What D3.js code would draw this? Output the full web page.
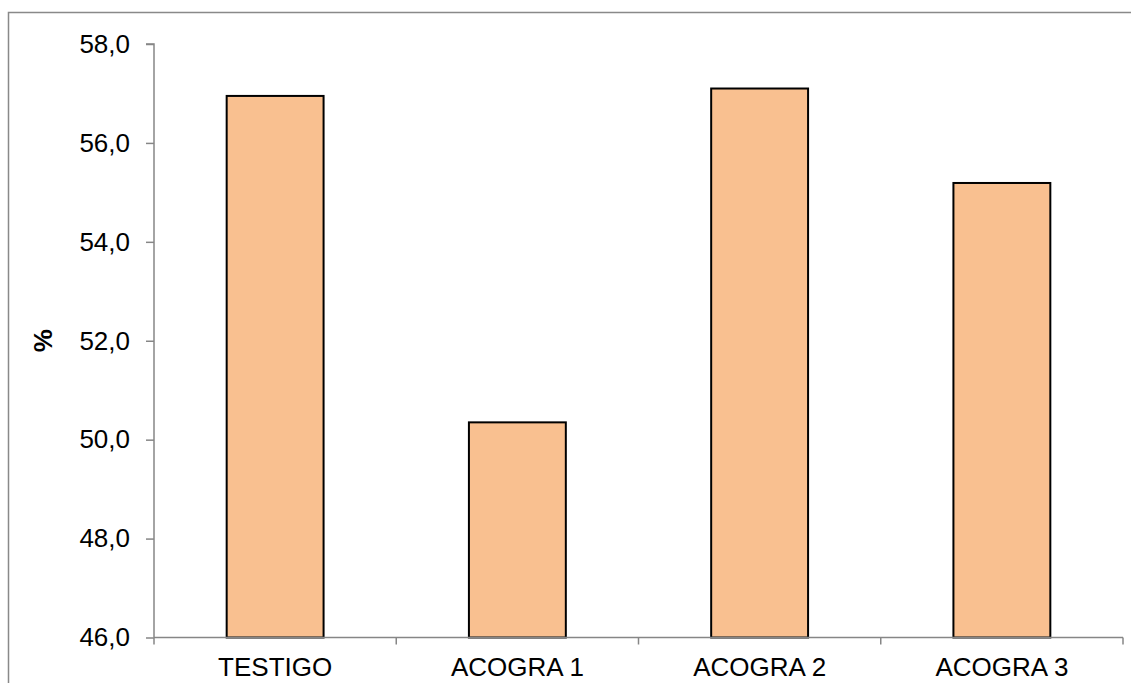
<!DOCTYPE html>
<html>
<head>
<meta charset="utf-8">
<script src="https://cdn.jsdelivr.net/npm/d3@7"></script>
<style>
body { margin: 0; background: #fff; }
svg { display: block; }
text { font-family: "Liberation Sans", Arial, sans-serif; }
</style>
</head>
<body>
<svg id="chart" width="1131" height="683"></svg>
<script>
const categories = ["TESTIGO", "ACOGRA 1", "ACOGRA 2", "ACOGRA 3"];
const values = [56.95, 50.35, 57.10, 55.19];
const yTicks = [46, 48, 50, 52, 54, 56, 58];
const yLabel = "%";

const svg = d3.select("#chart");
const W = 1131, H = 683;

// outer chart border
svg.append("rect")
  .attr("x", 8.5).attr("y", 12.5)
  .attr("width", W + 20).attr("height", H + 20)
  .attr("fill", "none").attr("stroke", "#898989").attr("stroke-width", 1.5);

const mLeft = 154, mRight = 1123, mTop = 44, mBottom = 637.5;

const x = d3.scaleBand().domain(categories).range([mLeft, mRight]).paddingInner(0.6).paddingOuter(0.3);
const xb = d3.scaleBand().domain(categories).range([mLeft, mRight]);
const y = d3.scaleLinear().domain([46, 58]).range([mBottom, mTop]);

// bars
svg.selectAll("rect.bar").data(values).enter().append("rect")
  .attr("class", "bar")
  .attr("x", (d, i) => x(categories[i]))
  .attr("y", d => y(d))
  .attr("width", x.bandwidth())
  .attr("height", d => y(46) - y(d))
  .attr("fill", "#F9C090")
  .attr("stroke", "#000").attr("stroke-width", 2);

// y axis
const yAxis = d3.axisLeft(y).tickValues(yTicks).tickSize(8).tickPadding(16)
  .tickFormat(d => d3.format(".1f")(d).replace(".", ","));
const gy = svg.append("g").attr("transform", `translate(${mLeft},0)`).call(yAxis);
gy.select(".domain").attr("stroke", "#868686").attr("stroke-width", 1.5).attr("d", `M-8,${mTop}H0V${mBottom}`);
gy.selectAll(".tick line").attr("stroke", "#868686").attr("stroke-width", 1.5);
gy.selectAll(".tick text").attr("font-size", 26).attr("fill", "#000")
  .attr("font-family", "'Liberation Sans', Arial, sans-serif");

// x axis
const xAxis = d3.axisBottom(xb).tickSize(0).tickPadding(20);
const gx = svg.append("g").attr("transform", `translate(0,${mBottom})`).call(xAxis);
gx.select(".domain").attr("stroke", "#868686").attr("stroke-width", 1.5).attr("d", `M${mLeft},0H${mRight}`);
gx.selectAll(".tick text").attr("font-size", 26).attr("fill", "#000")
  .attr("font-family", "'Liberation Sans', Arial, sans-serif");
// category boundary ticks
const bounds = categories.map(c => xb(c)).concat([mRight]);
gx.selectAll("line.bt").data(bounds).enter().append("line")
  .attr("class", "bt")
  .attr("x1", d => d).attr("x2", d => d)
  .attr("y1", 0).attr("y2", 7)
  .attr("stroke", "#868686").attr("stroke-width", 1.5);

// y label
svg.append("text")
  .attr("transform", `translate(52,${(mTop + mBottom) / 2}) rotate(-90)`)
  .attr("text-anchor", "middle")
  .attr("font-size", 26).attr("font-weight", "bold")
  .text(yLabel);
</script>
</body>
</html>
